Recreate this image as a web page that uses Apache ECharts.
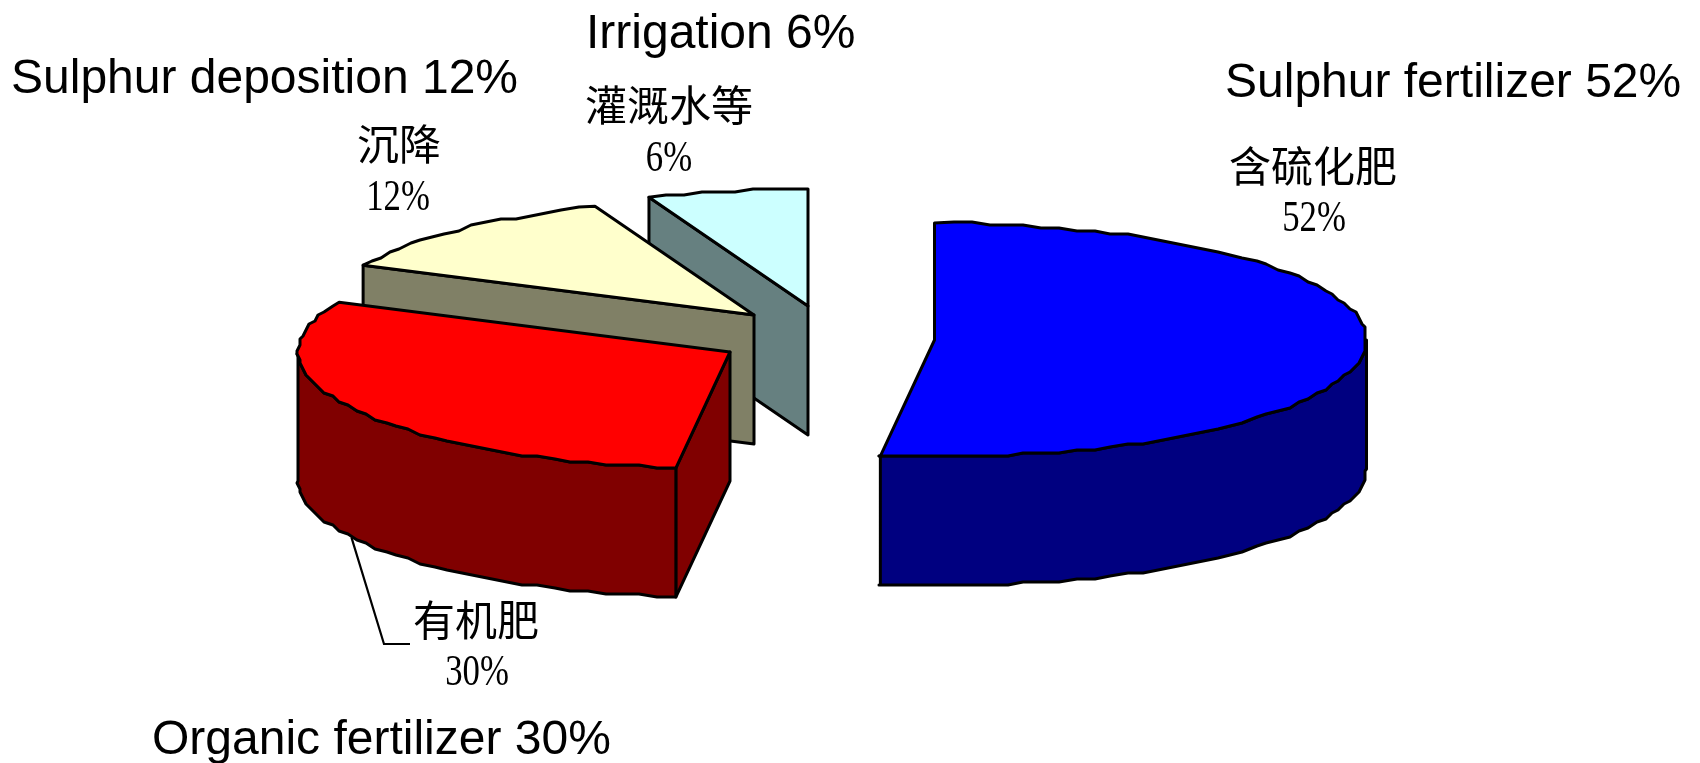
<!DOCTYPE html>
<html>
<head>
<meta charset="utf-8">
<title>Sulphur sources</title>
<style>
  html, body { margin: 0; padding: 0; background: #fff; }
  #chart { width: 1700px; height: 763px; }
</style>
<script src="https://cdn.jsdelivr.net/npm/echarts@6/dist/echarts.min.js"></script>
</head>
<body>
<div id="chart"></div>
<script>
// Sulphur inputs, in percent
const namesEn = ['Sulphur fertilizer', 'Organic fertilizer', 'Sulphur deposition', 'Irrigation'];
const namesZh = ['含硫化肥', '有机肥', '沉降', '灌溉水等'];
const shares = [52, 30, 12, 6];

// Slice colours: top face and the shaded wall below it
const topColours = ['#0000FF', '#FF0000', '#FFFFCC', '#CCFFFF'];
const wallColours = ['#000080', '#800000', '#808066', '#668080'];

// Layout of the exploded pie
const radiusX = 432, radiusY = 117, depth = 129;
const sliceCentres = [[934.5, 340], [730, 352], [754, 315], [808, 306]];
const paintOrder = [10, 30, 20, 5];
const stepGrid = 3, stepDegrees = 2.4;

// Text placement
const headingPos = [[1225, 84], [152, 741], [11, 80], [586, 35]];
const zhPos = [[1313, 166], [476, 620], [399, 144], [669, 105]];
const pctPos = [[1314, 219], [477, 673], [398, 198], [669, 159]];
const leaderElbow = [[384, 644], [410, 644]];

const INK = '#000';
const rad = d => d * Math.PI / 180;

function rimPoint(c, deg, drop) {
  return [c[0] + radiusX * Math.sin(rad(deg)), c[1] - radiusY * Math.cos(rad(deg)) + drop];
}

// Rim polyline, coarsened to a pixel grid for the stepped look of the outline.
// Samples sit on fixed angles so that a face and its wall share the same edge.
function rim(c, from, to, drop) {
  const pts = [rimPoint(c, from, drop)];
  for (let k = Math.floor(from / stepDegrees) + 1; k * stepDegrees < to; k++) {
    const p = rimPoint(c, k * stepDegrees, drop);
    pts.push([Math.round(p[0] / stepGrid) * stepGrid, Math.round(p[1] / stepGrid) * stepGrid]);
  }
  pts.push(rimPoint(c, to, drop));
  return pts;
}

const total = shares.reduce((a, b) => a + b, 0);
const sliceAngles = [];
shares.reduce((acc, v) => {
  sliceAngles.push([acc / total * 360, (acc + v) / total * 360]);
  return acc + v;
}, 0);

function poly(points, fill, z2) {
  return {
    type: 'polygon',
    z2,
    shape: { points },
    style: { fill, stroke: INK, lineWidth: 3, lineJoin: 'round' }
  };
}

function label(text, x, y, font, align, scaleX) {
  return {
    type: 'text', x, y, scaleX: scaleX || 1, z2: 100,
    style: { text, font, fill: INK, align, verticalAlign: 'middle' }
  };
}

function renderSlice(params, api) {
  const i = params.dataIndex;
  const value = api.value(0);
  const c = sliceCentres[i];
  const [a0, a1] = sliceAngles[i];
  const z = paintOrder[i];
  const kids = [];

  // Straight cut wall, seen when the slice starts past the bottom of the pie
  if (a0 > 180) {
    const p = rimPoint(c, a0, 0);
    kids.push(poly([[c[0], c[1]], p, [p[0], p[1] + depth], [c[0], c[1] + depth]],
      wallColours[i], z));
  }

  // Curved outer wall on the near half of the pie
  const w0 = Math.max(a0, 90), w1 = Math.min(a1, 270);
  if (w1 > w0) {
    const top = rim(c, w0, w1, 0);
    const bottom = rim(c, w0, w1, depth).reverse();
    kids.push(poly(top.concat(bottom), wallColours[i], z + 1));
  }

  // Top face
  kids.push(poly([[c[0], c[1]]].concat(rim(c, a0, a1, 0)), topColours[i], z + 2));

  // Text
  const pct = value + '%';
  kids.push(label(namesEn[i] + ' ' + pct, headingPos[i][0], headingPos[i][1],
    '48px "Liberation Sans", Arial, sans-serif', 'left'));
  kids.push(label(namesZh[i], zhPos[i][0], zhPos[i][1],
    '42px "Noto Sans CJK SC", sans-serif', 'center'));
  kids.push(label(pct, pctPos[i][0], pctPos[i][1],
    '44px "Liberation Serif", serif', 'center', 0.79));

  // Leader for the organic fertilizer label, from the middle of its rim
  if (i === 1) {
    const mid = rimPoint(c, (a0 + a1) / 2, depth);
    kids.push({
      type: 'polyline', z2: z + 3,
      shape: { points: [mid].concat(leaderElbow) },
      style: { fill: 'none', stroke: INK, lineWidth: 2.2 }
    });
  }
  return { type: 'group', children: kids };
}

const chart = echarts.init(document.getElementById('chart'), null, { renderer: 'canvas' });
chart.setOption({
  backgroundColor: '#fff',
  animation: false,
  series: [{
    type: 'custom',
    coordinateSystem: 'none',
    silent: true,
    clip: false,
    data: shares.map(v => [v]),
    renderItem: renderSlice
  }]
});
</script>
</body>
</html>
